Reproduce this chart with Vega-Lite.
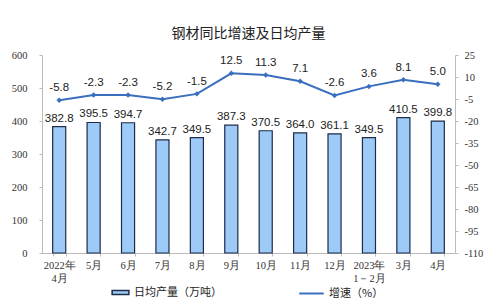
{
  "$schema": "https://vega.github.io/schema/vega-lite/v6.json",
  "autosize": {"type": "none"},
  "width": 413,
  "height": 198,
  "padding": {"left": 42, "top": 55, "right": 45, "bottom": 50},
  "background": "white",
  "title": {"text": "钢材同比增速及日均产量", "font": "Noto Sans CJK SC", "fontSize": 14, "fontWeight": "normal", "color": "#222", "offset": 9, "anchor": "middle"},
  "data": {"values": [
    {"m": "2022年|4月", "v": 382.8, "g": -5.8, "gt": "-5.8"},
    {"m": "5月", "v": 395.5, "g": -2.3, "gt": "-2.3"},
    {"m": "6月", "v": 394.7, "g": -2.3, "gt": "-2.3"},
    {"m": "7月", "v": 342.7, "g": -5.2, "gt": "-5.2"},
    {"m": "8月", "v": 349.5, "g": -1.5, "gt": "-1.5"},
    {"m": "9月", "v": 387.3, "g": 12.5, "gt": "12.5"},
    {"m": "10月", "v": 370.5, "g": 11.3, "gt": "11.3"},
    {"m": "11月", "v": 364.0, "g": 7.1, "gt": "7.1"},
    {"m": "12月", "v": 361.1, "g": -2.6, "gt": "-2.6"},
    {"m": "2023年|1－2月", "v": 349.5, "g": 3.6, "gt": "3.6"},
    {"m": "3月", "v": 410.5, "g": 8.1, "gt": "8.1"},
    {"m": "4月", "v": 399.8, "g": 5.0, "gt": "5.0"}
  ]},
  "encoding": {
    "x": {"field": "m", "type": "nominal", "sort": null, "title": null,
      "scale": {"paddingInner": 0.62, "paddingOuter": 0.31},
      "axis": {"labelExpr": "split(datum.label, '|')", "labelAngle": 0, "labelFont": "Liberation Serif", "labelFontSize": 10.5, "labelColor": "#333", "domainColor": "#bbb", "tickColor": "#bbb", "tickSize": 3, "tickBand": "extent", "labelPadding": 4, "labelLineHeight": 13}}
  },
  "layer": [
    {
      "encoding": {
        "y": {"field": "v", "type": "quantitative", "title": null,
          "scale": {"domain": [0, 600], "nice": false},
          "axis": {"values": [0, 100, 200, 300, 400, 500, 600], "labelOverlap": false, "grid": false, "labelFont": "Liberation Serif", "labelFontSize": 10.5, "labelColor": "#333", "domainColor": "#bbb", "tickColor": "#bbb", "tickSize": 3, "labelPadding": 12}}
      },
      "layer": [
        {
          "mark": {"type": "bar", "stroke": "#1c2c4a", "strokeWidth": 1.2},
          "encoding": {
            "fill": {"datum": "日均产量（万吨）", "type": "nominal",
              "scale": {"range": ["#9dcaf6"]},
              "legend": {"title": null, "symbolType": "M-1,-0.24H1V0.24H-1Z", "symbolSize": 280, "symbolStrokeColor": "#1c2c4a", "symbolStrokeWidth": 1.5, "labelFont": "Noto Sans CJK SC", "labelFontSize": 11, "labelColor": "#222", "orient": "none", "legendX": 69, "legendY": 228}}
          }
        },
        {
          "mark": {"type": "text", "dy": -8, "font": "Liberation Sans", "fontSize": 11.5, "color": "#222"},
          "encoding": {
            "text": {"field": "v", "type": "quantitative", "format": ".1f"}
          }
        }
      ]
    },
    {
      "encoding": {
        "y": {"field": "g", "type": "quantitative", "title": null,
          "scale": {"domain": [-110, 25], "nice": false},
          "axis": {"orient": "right", "values": [25, 10, -5, -20, -35, -50, -65, -80, -95, -110], "labelExpr": "replace(datum.label, '−', '-')", "labelOverlap": false, "grid": false, "labelFont": "Liberation Serif", "labelFontSize": 10.5, "labelColor": "#333", "domainColor": "#bbb", "tickColor": "#bbb", "tickSize": 3, "labelPadding": 6}}
      },
      "layer": [
        {
          "mark": {"type": "line", "strokeWidth": 2},
          "encoding": {
            "stroke": {"datum": "增速（%）", "type": "nominal",
              "scale": {"range": ["#3a6fbe"]},
              "legend": {"title": null, "symbolType": "stroke", "symbolSize": 600, "symbolStrokeWidth": 2, "labelFont": "Noto Sans CJK SC", "labelFontSize": 11, "labelColor": "#222", "orient": "none", "legendX": 256, "legendY": 225}}
          }
        },
        {
          "mark": {"type": "point", "shape": "diamond", "filled": true, "size": 30, "color": "#3a6fbe", "opacity": 1},
          "encoding": {}
        },
        {
          "mark": {"type": "text", "dy": -12, "font": "Liberation Sans", "fontSize": 11.5, "color": "#222"},
          "encoding": {
            "text": {"field": "gt", "type": "nominal"}
          }
        }
      ]
    }
  ],
  "resolve": {"scale": {"y": "independent", "fill": "independent", "stroke": "independent"}},
  "config": {"view": {"stroke": null}, "axis": {"labelOverlap": false}}
}
